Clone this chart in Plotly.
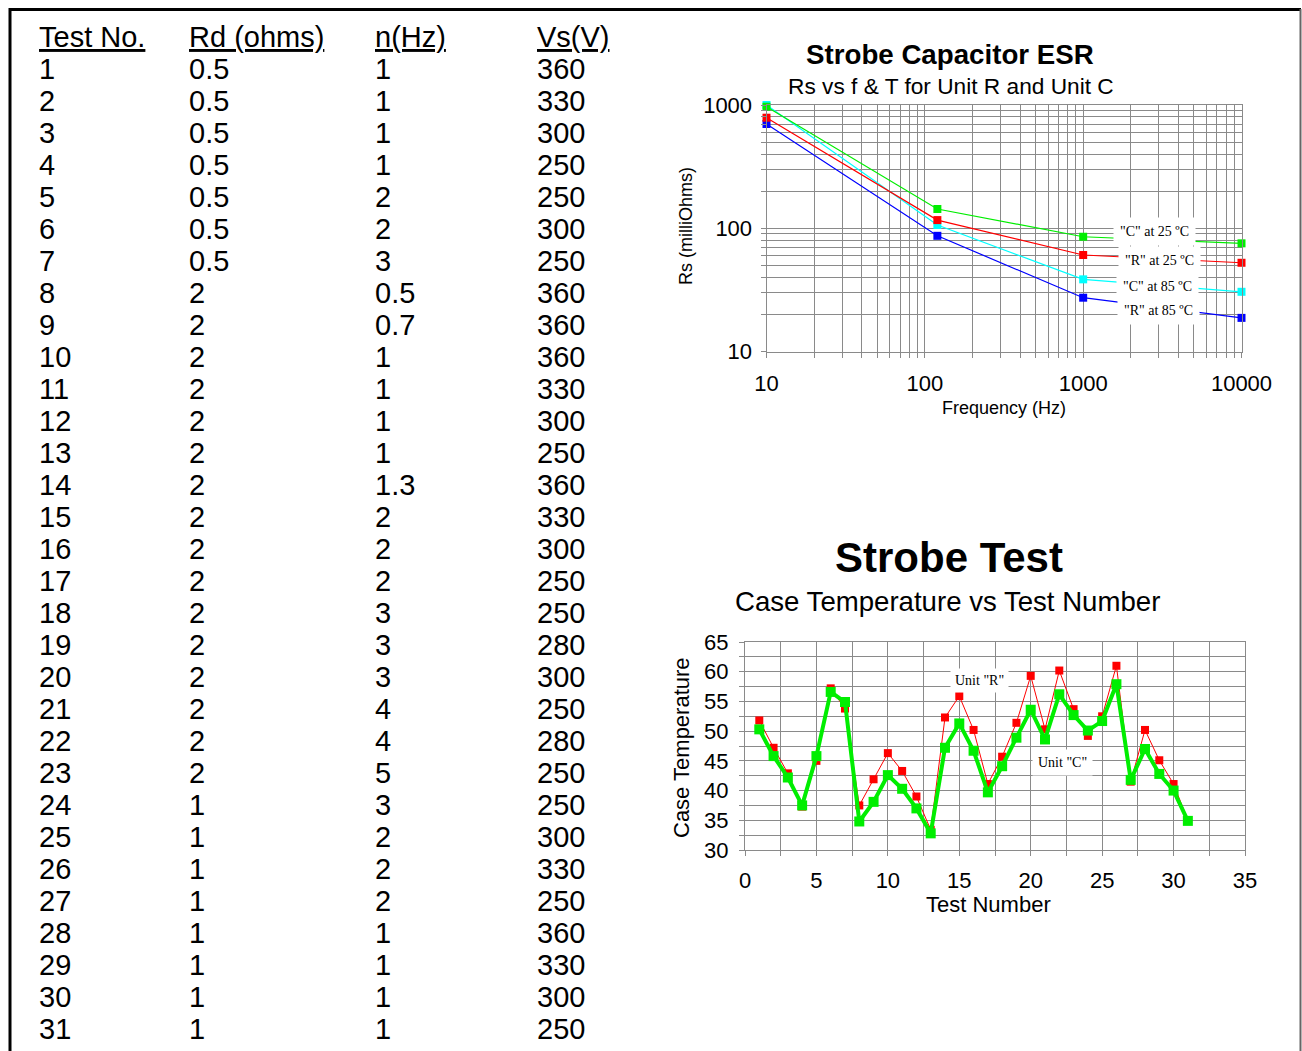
import math
import plotly.graph_objects as go

W, H = 1302, 1051

# ---------------- Table data ----------------
col_headers = ["Test No.", "Rd (ohms)", "n(Hz)", "Vs(V)"]
test_no = [1, 2, 3, 4, 5, 6, 7, 8, 9, 10, 11, 12, 13, 14, 15, 16, 17, 18, 19, 20,
           21, 22, 23, 24, 25, 26, 27, 28, 29, 30, 31]
rd_ohms = ["0.5", "0.5", "0.5", "0.5", "0.5", "0.5", "0.5", "2", "2", "2", "2", "2", "2", "2",
           "2", "2", "2", "2", "2", "2", "2", "2", "2", "1", "1", "1", "1", "1", "1", "1", "1"]
n_hz = ["1", "1", "1", "1", "2", "2", "3", "0.5", "0.7", "1", "1", "1", "1", "1.3", "2", "2",
        "2", "3", "3", "3", "4", "4", "5", "3", "2", "2", "2", "1", "1", "1", "1"]
vs_v = [360, 330, 300, 250, 250, 300, 250, 360, 360, 360, 330, 300, 250, 360, 330, 300,
        250, 250, 280, 300, 250, 280, 250, 250, 300, 330, 250, 360, 330, 300, 250]

# ---------------- ESR chart data ----------------
freq_hz = [10, 120, 1000, 10000]
esr_c25 = [969, 143.5, 85.5, 75.6]
esr_r25 = [789, 116.7, 60.8, 52.6]
esr_c85 = [1000, 106.4, 38.6, 30.6]
esr_r85 = [701, 87, 27.4, 18.8]
esr_names = ['"C" at 25 ºC', '"R" at 25 ºC', '"C" at 85 ºC', '"R" at 85 ºC']
esr_label_pos_hz = [2840, 3050, 2950, 3000]
esr_label_pos_rs = [94.5, 54.8, 33.7, 21.7]

# ---------------- Strobe test data ----------------
test_number = [1, 2, 3, 4, 5, 6, 7, 8, 9, 10, 11, 12, 13, 14, 15, 16, 17, 18, 19, 20,
               21, 22, 23, 24, 25, 26, 27, 28, 29, 30, 31]
temp_unit_r = [51.8, 47.2, 42.9, 37.3, 45.0, 57.2, 53.8, 37.5, 41.9, 46.3, 43.3, 39.0, 33.4,
               52.3, 55.9, 50.2, 41.1, 45.7, 51.4, 59.3, 50.3, 60.2, 53.7, 49.2, 52.5, 61.0,
               41.5, 50.2, 45.1, 41.1, 35.0]
temp_unit_c = [50.3, 45.8, 42.2, 37.5, 45.8, 56.6, 54.9, 34.8, 38.1, 42.6, 40.3, 37.0, 32.8,
               47.2, 51.3, 46.7, 39.7, 44.1, 48.9, 53.6, 48.6, 56.2, 52.7, 50.1, 51.7, 57.9,
               41.8, 47.0, 42.8, 40.0, 34.9]

SANS = "Arial, Liberation Sans, sans-serif"
SERIF = "Times New Roman, Liberation Serif, serif"
GRID = "#8a8a8a"


def pxx(x):
    return x / W


def pxy(y):
    return 1 - y / H


fig = go.Figure()

# ESR traces
esr_series = [(esr_r85, "#0000ff", esr_names[3]), (esr_c85, "#00ffff", esr_names[2]),
              (esr_r25, "#ff0000", esr_names[1]), (esr_c25, "#00ee00", esr_names[0])]
for vals, col, name in esr_series:
    fig.add_trace(go.Scatter(x=freq_hz, y=vals, name=name, mode="lines+markers",
                             line=dict(color=col, width=1.2),
                             marker=dict(symbol="square", size=8, color=col),
                             xaxis="x", yaxis="y", showlegend=False, cliponaxis=False))

# Strobe traces
fig.add_trace(go.Scatter(x=test_number, y=temp_unit_r, name='Unit "R"', mode="lines+markers",
                         line=dict(color="#ff0000", width=1),
                         marker=dict(symbol="square", size=8, color="#ff0000"),
                         xaxis="x2", yaxis="y2", showlegend=False))
fig.add_trace(go.Scatter(x=test_number, y=temp_unit_c, name='Unit "C"', mode="lines+markers",
                         line=dict(color="#00ee00", width=4),
                         marker=dict(symbol="square", size=10, color="#00ee00"),
                         xaxis="x2", yaxis="y2", showlegend=False))

annotations = []


def ptext(x, y, text, size, angle=0, bold=False):
    return dict(x=pxx(x), y=pxy(y), xref="paper", yref="paper",
                text=f"<b>{text}</b>" if bold else text, textangle=angle,
                showarrow=False, xanchor="center", yanchor="middle",
                font=dict(family=SANS, size=size, color="black"))


# Table
col_x = [37, 187, 373, 535]
head_y = 37
row0_y = 69
row_step = 32
for cx, htxt in zip(col_x, col_headers):
    annotations.append(dict(x=pxx(cx), y=pxy(head_y), xref="paper", yref="paper",
                            text=htxt, showarrow=False, xanchor="left", yanchor="middle",
                            font=dict(family=SANS, size=29, color="black", lineposition="under")))
columns = [[str(v) for v in test_no], rd_ohms, n_hz, [str(v) for v in vs_v]]
for cx, col in zip(col_x, columns):
    for i, txt in enumerate(col):
        annotations.append(dict(x=pxx(cx), y=pxy(row0_y + row_step * i), xref="paper", yref="paper",
                                text=txt, showarrow=False, xanchor="left", yanchor="middle",
                                font=dict(family=SANS, size=29, color="black")))

# ESR titles
annotations += [
    ptext(950, 54, "Strobe Capacitor ESR", 27.7, bold=True),
    ptext(951, 86, "Rs vs f & T for Unit R and Unit C", 22.7),
    ptext(686, 226, "Rs (milliOhms)", 18, angle=-90),
    ptext(1004, 408, "Frequency (Hz)", 18),
]
for name, lx, ly in zip(esr_names, esr_label_pos_hz, esr_label_pos_rs):
    annotations.append(dict(x=math.log10(lx), y=math.log10(ly), xref="x", yref="y", text=name,
                            showarrow=False, bgcolor="white", borderpad=6,
                            xanchor="center", yanchor="middle",
                            font=dict(family=SERIF, size=14, color="black")))

# Strobe titles
annotations += [
    ptext(949, 557, "Strobe Test", 42, bold=True),
    ptext(947, 601, "Case Temperature vs Test Number", 27.6),
    ptext(681, 748, "Case Temperature", 22, angle=-90),
    ptext(988, 904, "Test Number", 22),
    dict(x=16.4, y=58.6, xref="x2", yref="y2", text='Unit "R"', showarrow=False, bgcolor="white",
         borderpad=4, xanchor="center", yanchor="middle",
         font=dict(family=SERIF, size=14, color="black")),
    dict(x=22.2, y=44.8, xref="x2", yref="y2", text='Unit "C"', showarrow=False, bgcolor="white",
         borderpad=5, xanchor="center", yanchor="middle",
         font=dict(family=SERIF, size=14, color="black")),
]

# log axis grid positions
log_ticks = [m * d for d in (10, 100, 1000) for m in range(1, 10)] + [10000]
log_labels = {10: "10", 100: "100", 1000: "1000", 10000: "10000"}
x_ticktext = [log_labels.get(v, "") for v in log_ticks]
y_ticks = [m * d for d in (10, 100) for m in range(1, 10)] + [1000]
y_ticktext = [log_labels.get(v, "") for v in y_ticks]

axis_common = dict(showgrid=True, gridcolor=GRID, gridwidth=1, ticks="outside", ticklen=5,
                   tickcolor=GRID, showline=True, linecolor=GRID, linewidth=1, mirror=True,
                   zeroline=False, automargin=False,
                   tickfont=dict(family=SANS, size=22, color="black"))

fig.update_layout(
    width=W, height=H, margin=dict(l=0, r=0, t=0, b=0, pad=0, autoexpand=False),
    paper_bgcolor="white", plot_bgcolor="white", showlegend=False,
    xaxis=dict(type="log", domain=[pxx(766.5), pxx(1241.5)], range=[1, 4], tickmode="array",
               tickvals=log_ticks, ticktext=x_ticktext, anchor="y", ticklabelstandoff=7,
               **axis_common),
    yaxis=dict(type="log", domain=[pxy(351.7), pxy(105)], range=[1, 3], tickmode="array",
               tickvals=y_ticks, ticktext=y_ticktext, anchor="x", ticklabelstandoff=4,
               **axis_common),
    xaxis2=dict(domain=[pxx(745), pxx(1245)], range=[0, 35], dtick=5, tick0=0, anchor="y2",
                minor=dict(dtick=2.5, showgrid=True, gridcolor=GRID, ticks="outside", ticklen=5,
                           tickcolor=GRID),
                ticklabelstandoff=6, **axis_common),
    yaxis2=dict(domain=[pxy(850), pxy(642)], range=[30, 65], dtick=5, tick0=30, anchor="x2",
                minor=dict(dtick=2.5, showgrid=True, gridcolor=GRID, ticks="outside", ticklen=5,
                           tickcolor=GRID),
                ticklabelstandoff=6, **axis_common),
    annotations=annotations,
    shapes=[
        dict(type="line", xref="paper", yref="paper", x0=pxx(9), x1=pxx(1301), y0=pxy(9.5), y1=pxy(9.5),
             line=dict(color="black", width=3)),
        dict(type="line", xref="paper", yref="paper", x0=pxx(10), x1=pxx(10), y0=pxy(8), y1=pxy(1060),
             line=dict(color="black", width=3)),
        dict(type="line", xref="paper", yref="paper", x0=pxx(1300.5), x1=pxx(1300.5), y0=pxy(9), y1=pxy(1060),
             line=dict(color="#666666", width=2)),
    ],
)

fig.write_html("out.html", include_plotlyjs=True, full_html=True,
               config={"displayModeBar": False},
               post_script="document.body.style.margin='0';document.body.style.overflow='hidden';")
